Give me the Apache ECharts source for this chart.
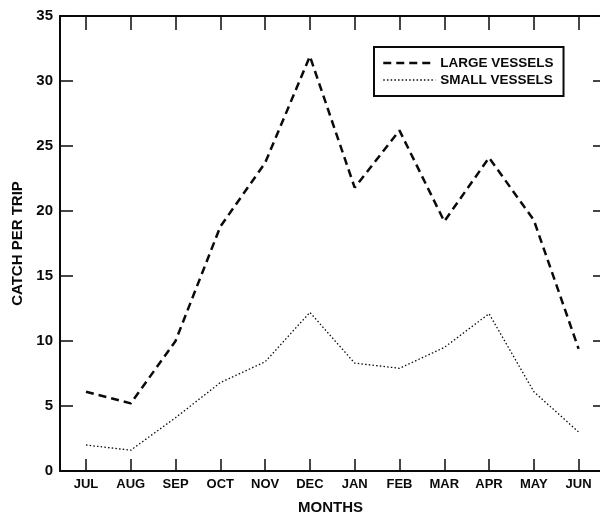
<!DOCTYPE html>
<html>
<head>
<meta charset="utf-8">
<script src="https://cdn.jsdelivr.net/npm/echarts@6/dist/echarts.min.js"></script>
<style>
  html, body { margin: 0; padding: 0; background: #fff; }
  #chart { width: 600px; height: 513px; }
</style>
</head>
<body>
<div id="chart"></div>
<script>
// Monthly catch per trip, July through June
const months = ['JUL', 'AUG', 'SEP', 'OCT', 'NOV', 'DEC', 'JAN', 'FEB', 'MAR', 'APR', 'MAY', 'JUN'];
const largeVessels = [6.1, 5.2, 10.0, 18.8, 23.7, 31.9, 21.8, 26.2, 19.2, 24.1, 19.3, 9.4];
const smallVessels = [2.0, 1.6, 4.1, 6.8, 8.4, 12.2, 8.3, 7.9, 9.5, 12.1, 6.1, 3.0];
const yTicks = [0, 5, 10, 15, 20, 25, 30, 35];

const monthIdx = months.map((m, i) => i);
const pairs = vals => vals.map((v, i) => [i, v]);

const FONT = 'Liberation Sans, Arial, Helvetica, sans-serif';
const INK = '#0a0a0a';

const chart = echarts.init(document.getElementById('chart'), null, { renderer: 'canvas' });

const xCommon = {
  type: 'value',
  min: -0.58,
  max: 11.5,
  splitLine: { show: false },
  axisLine: { show: true, onZero: false, lineStyle: { color: INK, width: 2 } }
};
const yCommon = {
  type: 'value',
  min: yTicks[0],
  max: yTicks[yTicks.length - 1],
  interval: yTicks[1] - yTicks[0],
  splitLine: { show: false },
  axisLine: { show: true, onZero: false, lineStyle: { color: INK, width: 2 } }
};

chart.setOption({
  animation: false,
  backgroundColor: '#fff',
  grid: { left: 60, top: 16, right: -1, height: 455, containLabel: false, outerBoundsMode: 'none' },
  legend: {
    show: true,
    orient: 'vertical',
    left: 374,
    top: 47,
    padding: [9, 10, 9, 8],
    borderColor: INK,
    borderWidth: 2,
    itemWidth: 52,
    itemHeight: 14,
    itemGap: 3,
    selectedMode: false,
    textStyle: { fontFamily: FONT, fontSize: 13.5, fontWeight: 'bold', color: INK },
    data: [
      { name: 'LARGE VESSELS', itemStyle: { opacity: 0 }, lineStyle: { width: 2.5, type: [8, 5], color: INK } },
      { name: 'SMALL VESSELS', itemStyle: { opacity: 0 }, lineStyle: { width: 1.3, type: [1.5, 2.2], color: INK } }
    ]
  },
  xAxis: [
    Object.assign({}, xCommon, {
      position: 'bottom',
      axisTick: { show: true, inside: true, length: 12, customValues: monthIdx, lineStyle: { color: INK, width: 1.5 } },
      axisLabel: {
        show: true,
        customValues: monthIdx,
        formatter: v => months[Math.round(v)],
        margin: 7,
        fontFamily: FONT,
        fontSize: 13,
        fontWeight: 'bold',
        color: INK
      },
      name: 'MONTHS',
      nameLocation: 'middle',
      nameGap: 29,
      nameTextStyle: { fontFamily: FONT, fontSize: 15, fontWeight: 'bold', color: INK }
    }),
    Object.assign({}, xCommon, {
      position: 'top',
      axisTick: { show: true, inside: true, length: 14, customValues: monthIdx, lineStyle: { color: INK, width: 1.5 } },
      axisLabel: { show: false }
    })
  ],
  yAxis: [
    Object.assign({}, yCommon, {
      position: 'left',
      axisTick: { show: true, inside: true, length: 13, lineStyle: { color: INK, width: 1.5 } },
      axisLabel: {
        show: true,
        margin: 7,
        fontFamily: FONT,
        fontSize: 15,
        fontWeight: 'bold',
        color: INK
      },
      name: 'CATCH PER TRIP',
      nameLocation: 'middle',
      nameRotate: 90,
      nameGap: 35,
      nameTextStyle: { fontFamily: FONT, fontSize: 15, fontWeight: 'bold', color: INK }
    }),
    Object.assign({}, yCommon, {
      position: 'right',
      axisTick: { show: true, inside: true, length: 8, lineStyle: { color: INK, width: 1.5 } },
      axisLabel: { show: false }
    })
  ],
  series: [
    {
      name: 'LARGE VESSELS',
      type: 'line',
      xAxisIndex: 0,
      yAxisIndex: 0,
      symbol: 'none',
      data: pairs(largeVessels),
      lineStyle: { color: INK, width: 2.5, type: [8, 5] }
    },
    {
      name: 'SMALL VESSELS',
      type: 'line',
      xAxisIndex: 0,
      yAxisIndex: 0,
      symbol: 'none',
      data: pairs(smallVessels),
      lineStyle: { color: INK, width: 1.3, type: [1.5, 2.2] }
    }
  ]
});
</script>
</body>
</html>
